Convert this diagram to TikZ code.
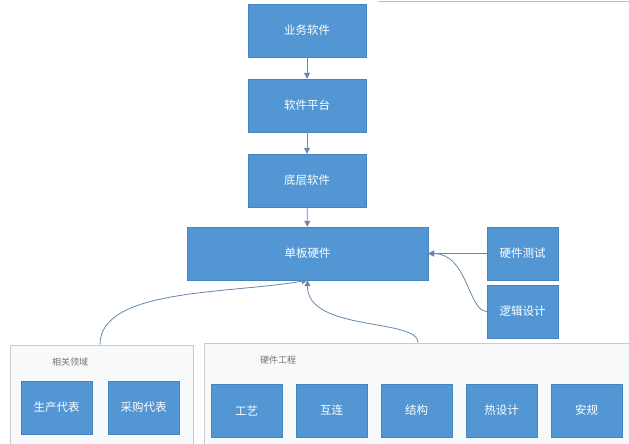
\documentclass[tikz,border=0pt]{standalone}
\usepackage{fontspec}
\setmainfont{Noto Sans CJK SC}
\usetikzlibrary{arrows.meta,positioning}
\definecolor{boxblue}{RGB}{82,150,212}
\definecolor{boxedge}{RGB}{70,132,192}
\definecolor{linkgray}{RGB}{104,136,172}
\definecolor{groupline}{RGB}{200,204,208}
\definecolor{groupfill}{RGB}{248,249,250}
\tikzset{
  layer box/.style={rectangle,draw=boxedge,fill=boxblue,text=white,minimum width=118pt,minimum height=53pt,inner sep=0pt,font=\fontsize{11.5}{13}\selectfont},
  small box/.style={layer box,minimum width=71pt},
  group box/.style={rectangle,draw=groupline,fill=groupfill,line width=0.8pt,inner sep=0pt},
  group label/.style={text=black!55,font=\fontsize{9}{11}\selectfont},
  link edge/.style={-{Triangle[length=6pt,width=6pt]},linkgray,line width=0.8pt},
}

\begin{document}
\begin{tikzpicture}[x=1pt,y=-1pt]
  \clip (0,0) rectangle (629,444);
  \fill[white] (0,0) rectangle (629,444);
  \draw[black!25,line width=0.6pt] (378,1) -- (629,1);
  % software stack
  \node[layer box] (biz) at (307,30.5) {业务软件};
  \node[layer box] (plat) at (307,105.5) {软件平台};
  \node[layer box] (low) at (307,180.5) {底层软件};
  \node[layer box,minimum width=241pt] (board) at (307.5,253.5) {单板硬件};
  \node[small box] (test) at (522.5,253.5) {硬件测试};
  \node[small box] (logic) at (522.5,311.5) {逻辑设计};
  % groups
  \node[group box,minimum width=183pt,minimum height=120pt] (related) at (101.5,405) {};
  \node[group label] (relatedlbl) at (70,362) {相关领域};
  \node[small box] (prod) at (56.5,407.5) {生产代表};
  \node[small box] (buy) at (143.5,407.5) {采购代表};
  \node[group box,minimum width=440pt,minimum height=120pt] (hweng) at (424,403) {};
  \node[group label] (hwenglbl) at (278,360) {硬件工程};
  \node[small box] (craft) at (246.5,410.5) {工艺};
  \node[small box] (inter) at (331.5,410.5) {互连};
  \node[small box] (struct) at (416.5,410.5) {结构};
  \node[small box] (therm) at (501.5,410.5) {热设计};
  \node[small box] (safety) at (586.5,410.5) {安规};
  % links
  \draw[link edge] (biz) -- (plat);
  \draw[link edge] (plat) -- (low);
  \draw[link edge] (low) -- (board);
  \draw[link edge] (test) -- (board);
  \draw[link edge] (logic.west) .. controls (468,311) and (468,254) .. (board.east);
  \draw[link edge] (related.north -| 100,0) .. controls (100,288) and (230,294) .. (board.south);
  \draw[link edge] (hweng.north -| 418,0) .. controls (418,318) and (307,332) .. (board.south);
\end{tikzpicture}
\end{document}
